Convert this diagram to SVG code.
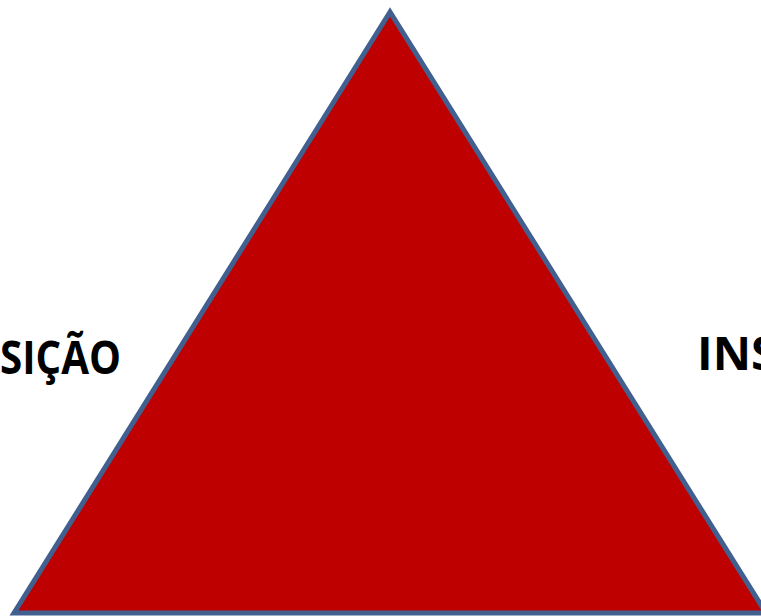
<svg xmlns="http://www.w3.org/2000/svg" width="761" height="616" viewBox="0 0 761 616">
<style>
.lbl{font-family:"Open Sans","Liberation Sans",sans-serif;font-weight:bold;font-size:46px;fill:#000}
</style>
<rect width="761" height="616" fill="#fff"/>
<g id="triangle">
<polygon points="390,12 14,613 766,613" fill="#bf0000" stroke="#41608f" stroke-width="5" stroke-linejoin="miter"/>
</g>
<g id="label-left">
<text class="lbl" x="121" y="374" text-anchor="end" textLength="121" lengthAdjust="spacingAndGlyphs">SIÇÃO</text>
</g>
<g id="label-right">
<text class="lbl" x="697" y="370" textLength="80" lengthAdjust="spacingAndGlyphs">INS</text>
</g>
</svg>
